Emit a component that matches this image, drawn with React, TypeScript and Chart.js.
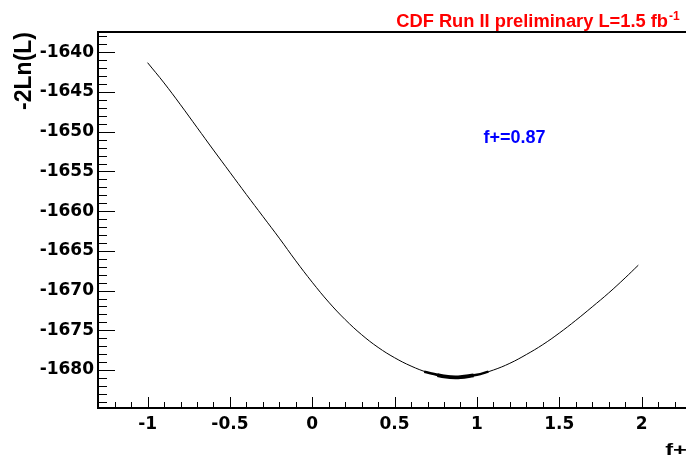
import { useEffect, useRef } from "react";
import { Chart, registerables } from "chart.js";

Chart.register(...registerables);

// scan of -2 ln L versus f+
const fPlus = [
  -1.0, -0.9, -0.8, -0.7, -0.6, -0.5, -0.4, -0.3, -0.2, -0.1, 0.0, 0.1, 0.2, 0.3, 0.4, 0.5, 0.6, 0.7, 0.8,
  0.87, 0.9, 1.0, 1.1, 1.2, 1.3, 1.4, 1.5, 1.6, 1.7, 1.8, 1.9, 1.98,
];
const negTwoLnL = [
  -1641.3, -1643.85, -1646.6, -1649.45, -1652.3, -1655.1, -1657.9, -1660.65, -1663.4, -1666.25, -1668.95,
  -1671.45, -1673.65, -1675.55, -1677.15, -1678.45, -1679.5, -1680.3, -1680.8, -1680.93, -1680.9, -1680.6,
  -1680.0, -1679.15, -1678.05, -1676.8, -1675.35, -1673.75, -1672.05, -1670.3, -1668.4, -1666.8,
];
// one-sigma region around the minimum (drawn thick)
const fitF = [0.68, 0.7, 0.8, 0.87, 0.9, 1.0, 1.07];
const fitL = [-1680.22, -1680.3, -1680.8, -1680.93, -1680.9, -1680.6, -1680.2];
const coreF = [0.76, 0.8, 0.87, 0.9, 0.98];
const coreL = [-1680.65, -1680.8, -1680.93, -1680.9, -1680.68];

const bestFitLabel = "f+=0.87";
const bestFitLabelAt = [1.04, -1651.4];
const titleMain = "CDF Run II preliminary L=1.5 fb";
const titleSup = "-1";
const xTitle = "f+";
const yTitle = "-2Ln(L)";

const xRange = [-1.301, 2.3];
const yRange = [-1684.78, -1637.44];
const xMajor = 0.5;
const xMinor = 0.1;
const yMajor = 5;
const yMinor = 1;

const TICK_FONT = "'DejaVu Sans', sans-serif";
const TEXT_FONT = "'Liberation Sans', Arial, sans-serif";

const rootDecor = {
  id: "rootDecor",
  afterDraw(chart: any) {
    const { ctx, chartArea: a, scales } = chart;
    const x = scales.x;
    const y = scales.y;
    ctx.save();
    ctx.strokeStyle = "#000";
    ctx.lineWidth = 1;
    ctx.beginPath();
    const xr = Math.round(xMajor / xMinor);
    for (let k = Math.ceil(x.min / xMinor - 1e-6); k <= Math.floor(x.max / xMinor + 1e-6); k++) {
      const px = Math.round(x.getPixelForValue(k * xMinor)) + 0.5;
      if (px <= a.left + 1) continue;
      const len = k % xr === 0 ? 11 : 6;
      ctx.moveTo(px, a.bottom);
      ctx.lineTo(px, a.bottom - len);
    }
    const yr = Math.round(yMajor / yMinor);
    for (let k = Math.ceil(y.min / yMinor - 1e-6); k <= Math.floor(y.max / yMinor + 1e-6); k++) {
      const py = Math.round(y.getPixelForValue(k * yMinor)) + 0.5;
      if (py <= a.top + 1 || py >= a.bottom - 1) continue;
      const len = k % yr === 0 ? 17 : 9;
      ctx.moveTo(a.left, py);
      ctx.lineTo(a.left + len, py);
    }
    ctx.stroke();

    ctx.lineWidth = 2;
    ctx.strokeRect(a.left, a.top, a.right - a.left, a.bottom - a.top);

    // title
    ctx.fillStyle = "#ff0000";
    ctx.font = `bold 18.3px ${TEXT_FONT}`;
    ctx.textAlign = "right";
    ctx.textBaseline = "alphabetic";
    ctx.fillText(titleMain, 668, 27);
    ctx.font = `bold 12px ${TEXT_FONT}`;
    ctx.textAlign = "left";
    ctx.fillText(titleSup, 669, 20);

    // best-fit label
    ctx.fillStyle = "#0000ff";
    ctx.font = `bold 18px ${TEXT_FONT}`;
    ctx.textAlign = "left";
    ctx.fillText(bestFitLabel, x.getPixelForValue(bestFitLabelAt[0]), y.getPixelForValue(bestFitLabelAt[1]));

    // x-axis title, right-aligned at the end of the axis
    ctx.fillStyle = "#000";
    ctx.font = `bold 17px ${TEXT_FONT}`;
    ctx.textAlign = "right";
    ctx.save();
    ctx.translate(a.right - 4, 454.5);
    ctx.scale(1.4, 1);
    ctx.fillText(xTitle, 0, 0);
    ctx.restore();
    ctx.restore();
  },
};

export default function App() {
  const ref = useRef<HTMLCanvasElement>(null);
  useEffect(() => {
    if (!ref.current) return;
    const chart = new Chart(ref.current, {
      type: "scatter",
      data: {
        datasets: [
          {
            data: fPlus.map((v, i) => ({ x: v, y: negTwoLnL[i] })),
            showLine: true,
            borderColor: "#000",
            borderWidth: 1,
            pointRadius: 0,
            tension: 0.4,
          },
          {
            data: fitF.map((v, i) => ({ x: v, y: fitL[i] })),
            showLine: true,
            borderColor: "#000",
            borderWidth: 2.5,
            pointRadius: 0,
            tension: 0.4,
          },
          {
            data: coreF.map((v, i) => ({ x: v, y: coreL[i] })),
            showLine: true,
            borderColor: "#000",
            borderWidth: 3.8,
            pointRadius: 0,
            tension: 0.4,
          },
        ],
      },
      options: {
        responsive: false,
        animation: false,
        devicePixelRatio: 1,
        layout: { padding: { top: 32, right: 9, left: 0, bottom: 0 } },
        plugins: { legend: { display: false }, tooltip: { enabled: false }, title: { display: false } },
        scales: {
          x: {
            type: "linear",
            min: xRange[0],
            max: xRange[1],
            grid: { display: false, drawTicks: false },
            border: { display: false },
            ticks: {
              stepSize: xMajor,
              includeBounds: false,
              autoSkip: false,
              maxRotation: 0,
              padding: 6,
              color: "#000",
              font: { family: TICK_FONT, weight: "bold", size: 17 },
              callback: (v: any) => String(Math.round(Number(v) * 10) / 10),
            },
            afterFit: (s: any) => {
              s.height = 55;
            },
          },
          y: {
            type: "linear",
            min: yRange[0],
            max: yRange[1],
            grid: { display: false, drawTicks: false },
            border: { display: false },
            ticks: {
              stepSize: yMajor,
              includeBounds: false,
              autoSkip: false,
              padding: 4,
              color: "#000",
              font: { family: TICK_FONT, weight: "bold", size: 17 },
              callback: (v: any) => String(Math.round(Number(v))),
            },
            title: {
              display: true,
              text: yTitle,
              align: "end",
              color: "#000",
              font: { family: TEXT_FONT, weight: "bold", size: 23 },
              padding: { top: 11, bottom: 0 },
            },
            afterFit: (s: any) => {
              s.width = 98;
            },
          },
        },
      },
      plugins: [rootDecor],
    } as any);
    return () => chart.destroy();
  }, []);
  return (
    <div
      style={{
        position: "fixed",
        left: 0,
        top: 0,
        width: 686,
        height: 463,
        overflow: "hidden",
        background: "#fff",
      }}
    >
      <canvas ref={ref} width={700} height={463} style={{ display: "block" }} />
    </div>
  );
}
